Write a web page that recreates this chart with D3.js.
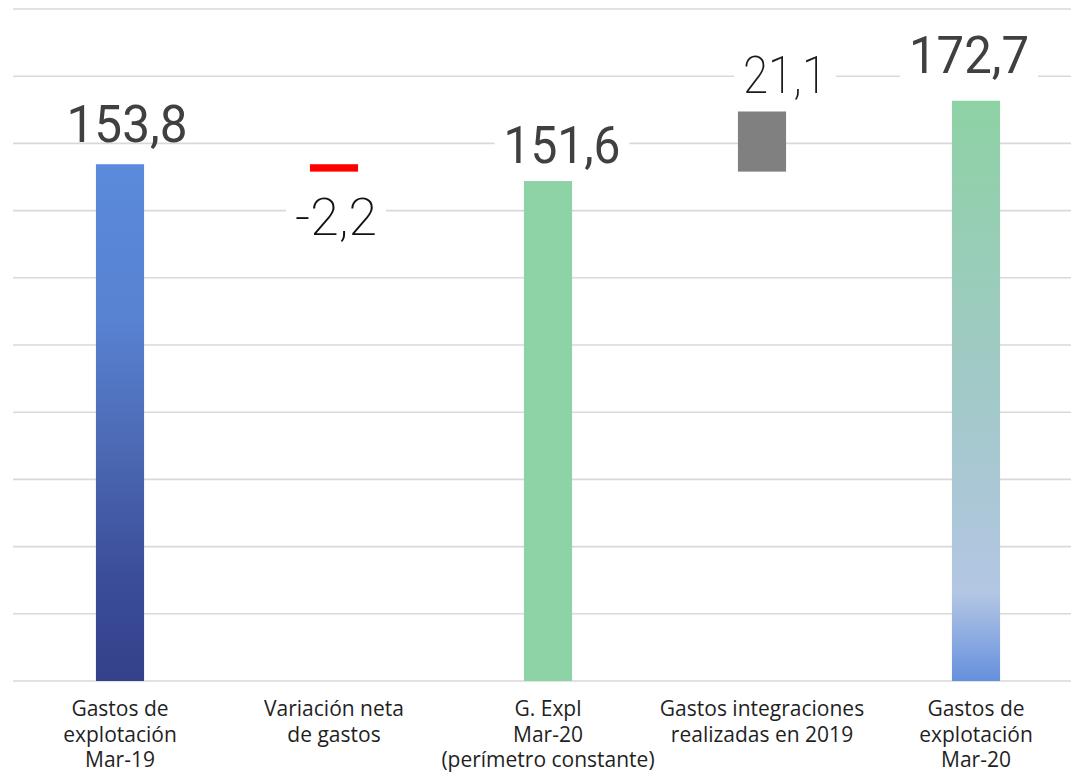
<!DOCTYPE html>
<html><head><meta charset="utf-8">
<script src="https://cdn.jsdelivr.net/npm/d3@7"></script>
<style>
html,body{margin:0;padding:0;background:#fff;}
svg{display:block;}
</style></head>
<body><svg id="chart" width="1071" height="772"></svg>
<script>
// ---- data ----
const categories = [
  ["Gastos de","explotación","Mar-19"],
  ["Variación neta","de gastos"],
  ["G. Expl","Mar-20","(perímetro constante)"],
  ["Gastos integraciones","realizadas en 2019"],
  ["Gastos de","explotación","Mar-20"]
];
const barStart = [0, 151.6, 0, 151.6, 0];
const barEnd   = [153.8, 153.8, 148.8, 169.5, 172.7];
const valueLabels = ["153,8", "-2,2", "151,6", "21,1", "172,7"];
const yTicks = [0, 20, 40, 60, 80, 100, 120, 140, 160, 180, 200];

// ---- layout / style ----
const W = 1071, H = 772;
const baseY = 681, topY = 9, left = 13, right = 1083;
const fills = ["url(#g1)", "#ff0000", "#8dd3a5", "#808080", "url(#g5)"];
const labelStyle = [
  {w:400, c:"#404040", len:121, anchor:"top", dx:7,  dy:-22, box:false},
  {w:200, c:"#111111", len:82,  anchor:"bot", dx:2,  dy:63,  box:true},
  {w:400, c:"#404040", len:117, anchor:"top", dx:14, dy:-18, box:true},
  {w:200, c:"#1a1a1a", len:84,  anchor:"top", dx:23, dy:-18, box:true},
  {w:400, c:"#404040", len:120, anchor:"top", dx:-7, dy:-28, box:true}
];

const svg = d3.select("#chart");
const defs = svg.append("defs");
function grad(id, stops){
  const g = defs.append("linearGradient").attr("id", id)
    .attr("x1",0).attr("y1",0).attr("x2",0).attr("y2",1);
  stops.forEach(s => g.append("stop").attr("offset", s[0]).attr("stop-color", s[1]));
}
grad("g1", [[0,"#5b8adc"],[0.3,"#5882d2"],[0.55,"#4c69b4"],[0.8,"#3b4d98"],[1,"#34418a"]]);
grad("g5", [[0,"#8dd2a4"],[0.5,"#a2c9c8"],[0.85,"#b3c6e3"],[1,"#6590de"]]);

const x = d3.scaleBand().domain(d3.range(categories.length)).range([left, right]).paddingInner(0.775).paddingOuter(0.3875);
const y = d3.scaleLinear().domain([0, 200]).range([baseY, topY]);

// gridlines
const grid = svg.append("g");
grid.selectAll("line").data(yTicks).join("line")
  .attr("x1", left).attr("x2", W)
  .attr("y1", d => y(d)).attr("y2", d => y(d))
  .attr("stroke", "#d9d9d9").attr("stroke-width", 1.6);

// bars
svg.append("g").selectAll("rect").data(d3.range(categories.length)).join("rect")
  .attr("x", i => x(i))
  .attr("width", x.bandwidth())
  .attr("y", i => y(Math.max(barStart[i], barEnd[i])))
  .attr("height", i => Math.abs(y(barStart[i]) - y(barEnd[i])))
  .attr("fill", i => fills[i]);

// value labels
const lg = svg.append("g");
valueLabels.forEach((t, i) => {
  const s = labelStyle[i];
  const cx = x(i) + x.bandwidth()/2 + s.dx;
  const refY = s.anchor === "top" ? y(Math.max(barStart[i], barEnd[i])) : y(Math.min(barStart[i], barEnd[i]));
  const by = refY + s.dy;
  if (s.box) {
    lg.append("rect").attr("x", cx - s.len/2 - 9).attr("y", by - 40)
      .attr("width", s.len + 18).attr("height", 48).attr("fill", "#fff");
  }
  lg.append("text").attr("x", cx).attr("y", by)
    .attr("text-anchor", "middle")
    .attr("font-family", "Roboto, 'DejaVu Sans', sans-serif")
    .attr("font-size", 52).attr("font-weight", s.w)
    .attr("fill", s.c)
    .attr("textLength", s.len).attr("lengthAdjust", "spacingAndGlyphs")
    .text(t);
});

// x axis category labels
const ax = svg.append("g");
categories.forEach((lines, i) => {
  const t = ax.append("text")
    .attr("x", x(i) + x.bandwidth()/2)
    .attr("y", 716)
    .attr("text-anchor", "middle")
    .attr("font-family", "'Open Sans', sans-serif")
    .attr("font-size", 21)
    .attr("fill", "#1f1f1f");
  lines.forEach((l, j) => {
    t.append("tspan").attr("x", x(i) + x.bandwidth()/2).attr("dy", j === 0 ? 0 : 25.5).text(l);
  });
});
</script>
</body></html>
